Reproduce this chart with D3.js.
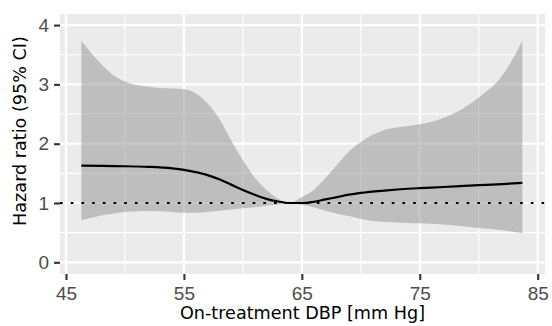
<!DOCTYPE html>
<html>
<head>
<meta charset="utf-8">
<script src="https://cdn.jsdelivr.net/npm/d3@7"></script>
<style>
  html, body { margin: 0; padding: 0; background: #ffffff; }
  svg { display: block; }
</style>
</head>
<body>
<svg id="chart" width="552" height="326"></svg>
<script>
// ---- data ----
const dbp = [46.3, 48, 49, 50, 52, 54, 55, 56, 57, 58, 59, 60, 61, 62, 63, 64,
             65, 66, 67, 68, 69, 70, 72, 74, 75, 76, 78, 80, 82, 83.7];
const hr = [1.63, 1.625, 1.622, 1.62, 1.61, 1.585, 1.56, 1.52, 1.47, 1.40, 1.31, 1.22, 1.14, 1.07, 1.025, 1.0,
            1.0, 1.02, 1.06, 1.10, 1.14, 1.17, 1.21, 1.24, 1.25, 1.26, 1.28, 1.30, 1.32, 1.34];
const upper = [3.73, 3.34, 3.16, 3.05, 2.96, 2.93, 2.92, 2.85, 2.68, 2.42, 2.06, 1.72, 1.43, 1.22, 1.07, 1.0,
               1.10, 1.22, 1.42, 1.65, 1.87, 2.03, 2.23, 2.30, 2.33, 2.37, 2.52, 2.78, 3.15, 3.73];
const lower = [0.71, 0.79, 0.82, 0.85, 0.865, 0.85, 0.835, 0.835, 0.85, 0.87, 0.89, 0.91, 0.93, 0.955, 0.975, 1.0,
               0.97, 0.93, 0.87, 0.82, 0.78, 0.73, 0.68, 0.665, 0.66, 0.65, 0.62, 0.58, 0.54, 0.49];
const xTicks = [45, 55, 65, 75, 85];
const xMinor = [50, 60, 70, 80];
const yTicks = [0, 1, 2, 3, 4];
const yMinor = [0.5, 1.5, 2.5, 3.5];
const refLine = 1;
const xTitle = "On-treatment DBP [mm Hg]";
const yTitle = "Hazard ratio (95% CI)";

// ---- layout ----
const panel = { left: 60, right: 545, top: 14, bottom: 274 };
const svg = d3.select("#chart");

const x = d3.scaleLinear().domain([44.49, 85.62]).range([panel.left, panel.right]);
const y = d3.scaleLinear().domain([-0.197, 4.187]).range([panel.bottom, panel.top]);

const rows = dbp.map((d, i) => ({ x: d, y: hr[i], lo: lower[i], hi: upper[i] }));

// panel background
svg.append("rect")
  .attr("x", panel.left).attr("y", panel.top)
  .attr("width", panel.right - panel.left).attr("height", panel.bottom - panel.top)
  .attr("fill", "#EBEBEB");

const grid = svg.append("g");
grid.selectAll("line.xmin").data(xMinor).join("line")
  .attr("x1", d => x(d)).attr("x2", d => x(d))
  .attr("y1", panel.top).attr("y2", panel.bottom)
  .attr("stroke", "#fff").attr("stroke-width", 1.1);
grid.selectAll("line.ymin").data(yMinor).join("line")
  .attr("y1", d => y(d)).attr("y2", d => y(d))
  .attr("x1", panel.left).attr("x2", panel.right)
  .attr("stroke", "#fff").attr("stroke-width", 1.1);
grid.selectAll("line.xmaj").data(xTicks).join("line")
  .attr("x1", d => x(d)).attr("x2", d => x(d))
  .attr("y1", panel.top).attr("y2", panel.bottom)
  .attr("stroke", "#fff").attr("stroke-width", 2.2);
grid.selectAll("line.ymaj").data(yTicks).join("line")
  .attr("y1", d => y(d)).attr("y2", d => y(d))
  .attr("x1", panel.left).attr("x2", panel.right)
  .attr("stroke", "#fff").attr("stroke-width", 2.2);

// confidence band
const area = d3.area()
  .x(d => x(d.x)).y0(d => y(d.lo)).y1(d => y(d.hi))
  .curve(d3.curveMonotoneX);
svg.append("path").datum(rows)
  .attr("d", area)
  .attr("fill", "#999999").attr("fill-opacity", 0.55);

// reference line
svg.append("line")
  .attr("x1", panel.left).attr("x2", panel.right)
  .attr("y1", y(refLine)).attr("y2", y(refLine))
  .attr("stroke", "#000").attr("stroke-width", 2.2)
  .attr("stroke-dasharray", "2.7 8");

// HR line
const line = d3.line().x(d => x(d.x)).y(d => y(d.y)).curve(d3.curveMonotoneX);
svg.append("path").datum(rows)
  .attr("d", line)
  .attr("fill", "none").attr("stroke", "#000").attr("stroke-width", 2.2);

// axes
const fmt = d3.format("d");
const xAxis = d3.axisBottom(x).tickValues(xTicks).tickFormat(fmt).tickSize(6).tickPadding(7);
const gx = svg.append("g").attr("transform", `translate(0,${panel.bottom})`).call(xAxis);
gx.select(".domain").remove();
gx.selectAll(".tick line").attr("stroke", "#333333").attr("stroke-width", 2.1);
gx.selectAll(".tick text")
  .attr("fill", "#4D4D4D").attr("font-family", "Liberation Sans").attr("font-size", 19);

const yAxis = d3.axisLeft(y).tickValues(yTicks).tickFormat(fmt).tickSize(6).tickPadding(5);
const gy = svg.append("g").attr("transform", `translate(${panel.left},0)`).call(yAxis);
gy.select(".domain").remove();
gy.selectAll(".tick line").attr("stroke", "#333333").attr("stroke-width", 2.1);
gy.selectAll(".tick text")
  .attr("fill", "#4D4D4D").attr("font-family", "Liberation Sans").attr("font-size", 19);

// titles
svg.append("text")
  .attr("x", (panel.left + panel.right) / 2).attr("y", 319)
  .attr("text-anchor", "middle")
  .attr("font-family", "DejaVu Sans").attr("font-size", 17.6)
  .attr("fill", "#000").text(xTitle);

svg.append("text")
  .attr("transform", `translate(26,131) rotate(-90)`)
  .attr("text-anchor", "middle")
  .attr("font-family", "DejaVu Sans").attr("font-size", 17.6)
  .attr("fill", "#000").text(yTitle);
</script>
</body>
</html>
